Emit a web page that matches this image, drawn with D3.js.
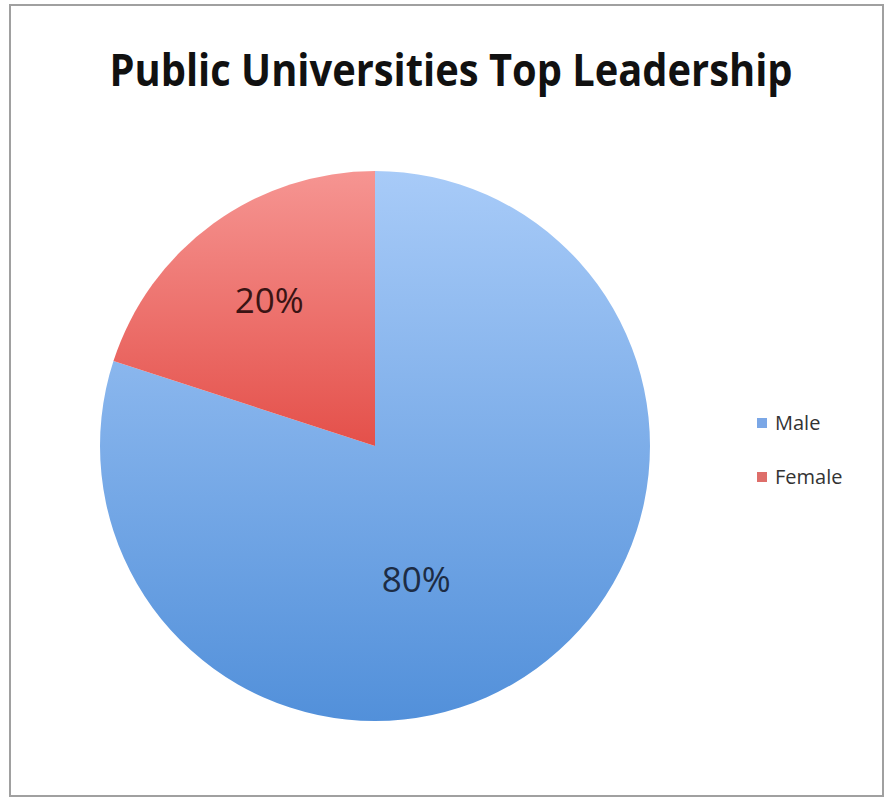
<!DOCTYPE html>
<html lang="en">
<head>
  <meta charset="UTF-8">
  <title>Public Universities Top Leadership</title>
  <style>
    body { margin: 0; background: #fff; }
    svg { display: block; }
    .title { font-family: "Open Sans", sans-serif; font-weight: 700; fill: #111; }
    .pct { font-family: "Open Sans", sans-serif; font-size: 35px; }
    .legend text { font-family: "Open Sans", sans-serif; font-size: 20px; fill: #333; }
  </style>
  <script src="https://d3js.org/d3.v7.min.js"></script>
</head>
<body>
<div id="chart"></div>
<script>
  // Data
  var title = "Public Universities Top Leadership";
  var categories = ["Male", "Female"];
  var values = [80, 20];

  // colours: gradient top / bottom for each slice
  var topColors = ["#a8cbf8", "#f69592"];
  var bottomColors = ["#5290da", "#e4504a"];
  var legendColors = ["#7ba7e6", "#de6e6a"];
  var labelColors = ["#1d2c44", "#3a1414"];

  var width = 886, height = 799;
  var cx = 375, cy = 446, radius = 275;

  var svg = d3.select("#chart").append("svg")
    .attr("width", width)
    .attr("height", height);

  // chart frame
  svg.append("rect")
    .attr("x", 10).attr("y", 5)
    .attr("width", 873).attr("height", 791)
    .attr("fill", "#fff")
    .attr("stroke", "#a0a0a0")
    .attr("stroke-width", 2);

  // gradients
  var defs = svg.append("defs");
  categories.forEach(function(c, i) {
    var g = defs.append("linearGradient")
      .attr("id", "grad" + i)
      .attr("x1", 0).attr("y1", 0).attr("x2", 0).attr("y2", 1);
    g.append("stop").attr("offset", "0%").attr("stop-color", topColors[i]);
    g.append("stop").attr("offset", "100%").attr("stop-color", bottomColors[i]);
  });

  // Title, squeezed to the width it takes in the original
  var t = svg.append("text")
    .attr("class", "title")
    .attr("x", 451)
    .attr("y", 86)
    .attr("text-anchor", "middle")
    .style("font-size", "44px")
    .text(title);
  var w = t.node().getComputedTextLength();
  if (w > 683) {
    t.attr("textLength", 683).attr("lengthAdjust", "spacingAndGlyphs");
  }

  // Pie
  var pie = d3.pie().sort(null).value(d => d);
  var arcs = pie(values);
  var arc = d3.arc().innerRadius(0).outerRadius(radius);

  var g = svg.append("g").attr("transform", "translate(" + cx + "," + cy + ")");

  g.selectAll("path")
    .data(arcs)
    .enter().append("path")
    .attr("d", arc)
    .attr("fill", (d, i) => "url(#grad" + i + ")");

  // label placement (fraction of radius, angle shift in radians) like Excel's best fit
  var labelRadius = [0.51, 0.655];
  var labelShift = [0.33, 0];

  g.selectAll("text")
    .data(arcs)
    .enter().append("text")
    .attr("class", "pct")
    .attr("text-anchor", "middle")
    .attr("dy", "0.35em")
    .attr("fill", (d, i) => labelColors[i])
    .attr("transform", function(d, i) {
      var a = (d.startAngle + d.endAngle) / 2 + labelShift[i];
      var p = d3.pointRadial(a, radius * labelRadius[i]);
      return "translate(" + p[0] + "," + p[1] + ")";
    })
    .text(d => d.data + "%");

  // Legend
  var legendY = d3.scalePoint().domain(categories).range([423, 477]);
  var legend = svg.append("g").attr("class", "legend");
  var item = legend.selectAll("g")
    .data(categories)
    .enter().append("g")
    .attr("transform", d => "translate(757," + legendY(d) + ")");
  item.append("rect")
    .attr("x", 0).attr("y", -5)
    .attr("width", 10).attr("height", 10)
    .attr("fill", (d, i) => legendColors[i]);
  item.append("text")
    .attr("x", 18)
    .attr("dy", "0.35em")
    .text(d => d);
</script>
</body>
</html>
